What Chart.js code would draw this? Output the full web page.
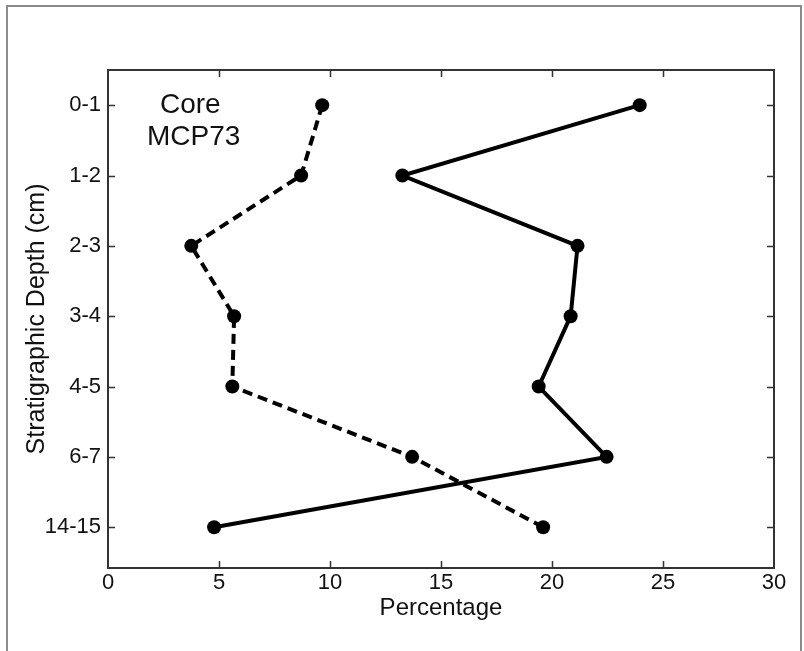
<!DOCTYPE html>
<html><head><meta charset="utf-8">
<script src="https://cdn.jsdelivr.net/npm/chart.js@4/dist/chart.umd.min.js"></script>
<style>html,body{margin:0;padding:0;background:#fff}#wrap{width:804px;height:651px;position:relative}</style>
</head><body><div id="wrap"><canvas id="c" width="804" height="651"></canvas></div>
<script>
const depthLabels = ['0-1', '1-2', '2-3', '3-4', '4-5', '6-7', '14-15'];
const dashedValues = [9.65, 8.7, 3.75, 5.68, 5.6, 13.7, 19.6];
const solidValues = [23.95, 13.26, 21.15, 20.84, 19.4, 22.46, 4.78];
const xTickValues = [0, 5, 10, 15, 20, 25, 30];
const annotationLines = ['Core', 'MCP73'];

const FONT = "'Liberation Sans', Arial, Helvetica, sans-serif";

const framePlugin = {
  id: 'frame',
  beforeDraw(chart) {
    const ctx = chart.ctx;
    ctx.save();
    ctx.fillStyle = '#fff';
    ctx.fillRect(0, 0, chart.width, chart.height);
    ctx.strokeStyle = '#8a8a8a';
    ctx.lineWidth = 2;
    ctx.strokeRect(7, 6, 794, 700);
    ctx.restore();
  },
  afterDraw(chart) {
    const ctx = chart.ctx;
    const a = chart.chartArea;
    const xs = chart.scales.x, ys = chart.scales.y;
    ctx.save();
    ctx.strokeStyle = '#333';
    ctx.lineWidth = 2;
    ctx.strokeRect(a.left, a.top, a.right - a.left, a.bottom - a.top);
    ctx.lineWidth = 1.5;
    const tl = 7;
    ctx.beginPath();
    xTickValues.forEach(v => {
      if (v === xs.min || v === xs.max) return;
      const px = Math.round(xs.getPixelForValue(v)) + 0.5;
      ctx.moveTo(px, a.bottom); ctx.lineTo(px, a.bottom - tl);
      ctx.moveTo(px, a.top); ctx.lineTo(px, a.top + tl);
    });
    depthLabels.forEach((_, i) => {
      const py = Math.round(ys.getPixelForValue(i)) + 0.5;
      ctx.moveTo(a.left, py); ctx.lineTo(a.left + tl, py);
      ctx.moveTo(a.right, py); ctx.lineTo(a.right - tl, py);
    });
    ctx.stroke();
    ctx.fillStyle = '#111';
    ctx.font = '28px ' + FONT;
    ctx.textBaseline = 'middle';
    ctx.textAlign = 'left';
    ctx.fillText(annotationLines[0], 160, 105);
    ctx.fillText(annotationLines[1], 147, 137);
    ctx.restore();
  }
};

const toPoints = vals => vals.map((v, i) => ({ x: v, y: i }));

new Chart(document.getElementById('c'), {
  type: 'line',
  data: {
    datasets: [
      {
        label: 'dashed',
        data: toPoints(dashedValues),
        borderColor: '#000',
        backgroundColor: '#000',
        borderWidth: 4,
        borderDash: [10, 6],
        pointRadius: 7,
        pointBackgroundColor: '#000',
        pointBorderWidth: 0,
        tension: 0,
        fill: false
      },
      {
        label: 'solid',
        data: toPoints(solidValues),
        borderColor: '#000',
        backgroundColor: '#000',
        borderWidth: 4,
        pointRadius: 7,
        pointBackgroundColor: '#000',
        pointBorderWidth: 0,
        tension: 0,
        fill: false
      }
    ]
  },
  options: {
    responsive: false,
    animation: false,
    devicePixelRatio: 1,
    layout: { padding: { top: 70, right: 30, left: 0, bottom: 0 } },
    plugins: { legend: { display: false }, tooltip: { enabled: false } },
    scales: {
      x: {
        type: 'linear',
        position: 'bottom',
        min: 0, max: 30,
        afterBuildTicks: s => { s.ticks = xTickValues.map(v => ({ value: v })); },
        ticks: { font: { size: 22, family: FONT }, color: '#111', padding: 2, maxRotation: 0 },
        grid: { display: false, drawTicks: false },
        border: { display: false },
        title: { display: true, text: 'Percentage', font: { size: 24, family: FONT }, color: '#111', padding: { top: 0, bottom: 28 } },
        afterFit: s => { s.height = 83; }
      },
      y: {
        type: 'linear',
        position: 'left',
        reverse: true,
        min: -0.5, max: 6.58,
        afterBuildTicks: s => { s.ticks = depthLabels.map((_, i) => ({ value: i })); },
        ticks: { font: { size: 22, family: FONT }, color: '#111', padding: 7, callback: v => depthLabels[v] },
        grid: { display: false, drawTicks: false },
        border: { display: false },
        title: { display: true, text: 'Stratigraphic Depth (cm)', font: { size: 25, family: FONT }, color: '#111', padding: { top: 22, bottom: 0 } },
        afterFit: s => { s.width = 108; }
      }
    }
  },
  plugins: [framePlugin]
});
</script>
</body></html>
